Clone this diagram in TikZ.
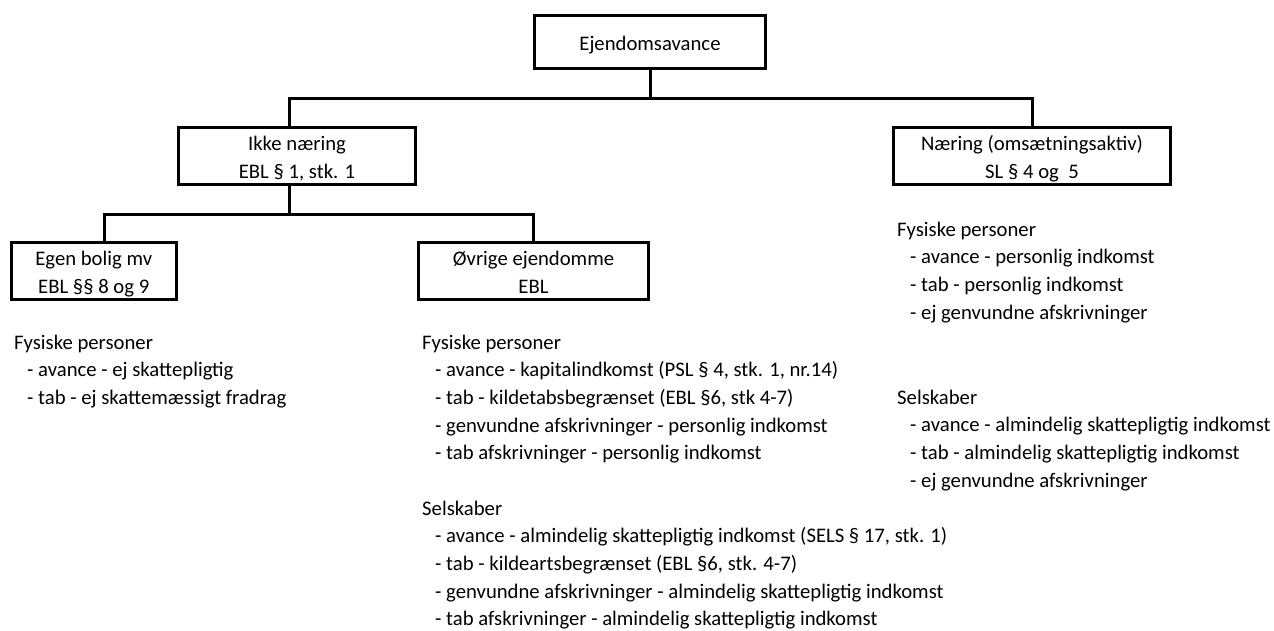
\documentclass[tikz,border=0pt]{standalone}
\usepackage{fontspec}
\setmainfont{Carlito}
\newcommand{\punkt}{\hspace*{13pt}- }
\newcommand{\notelines}[1]{\begin{tabular}[t]{@{}l@{}}#1\end{tabular}}
\tikzset{
  box/.style={draw, line width=3pt, inner sep=0pt, align=center,
              text height=51pt, text depth=6pt,
              font=\fontsize{20.7}{28}\selectfont},
  notes/.style={anchor=base west, inner sep=0pt,
                font=\fontsize{20.7}{27.7}\selectfont},
  link/.style={line width=3pt},
}
\begin{document}
\begin{tikzpicture}[x=1pt,y=-1pt]
  \useasboundingbox (0,0) rectangle (1274,630);
  % boxes
  \node[box, text height=19pt, text depth=3pt, minimum width=231, minimum height=53]
    (root) at (650,42) {Ejendomsavance};
  \node[box, minimum width=237, minimum height=54] (ikke) at (297,155.5) {Ikke næring\\EBL § 1, stk. 1};
  \node[box, minimum width=277, minimum height=54] (naering) at (1032,155.5) {Næring (omsætningsaktiv)\\SL § 4 og~ 5};
  \node[box, minimum width=165.5, minimum height=54] (egen) at (93.75,270.5) {Egen bolig mv\\EBL §§ 8 og 9};
  \node[box, minimum width=230, minimum height=54] (ovrige) at (533.5,270.5) {Øvrige ejendomme\\EBL};

  % connectors
  \draw[link] (root.south) -- ++(0,28) coordinate (bus1);
  \draw[link] (bus1) -| ([xshift=-8pt]ikke.north);
  \draw[link] (bus1) -| (naering.north);
  \draw[link] ([xshift=-8pt]ikke.south) -- ++(0,29) coordinate (bus2);
  \draw[link] (bus2) -| ([xshift=11pt]egen.north);
  \draw[link] (bus2) -| (ovrige.north);

  % notes
  \node[notes] (egenfys) at (14,349) {\notelines{Fysiske personer\\
    \punkt avance - ej skattepligtig\\
    \punkt tab - ej skattemæssigt fradrag}};
  \node[notes] (ovrfys) at (422,349) {\notelines{Fysiske personer\\
    \punkt avance - kapitalindkomst (PSL § 4, stk. 1, nr.14)\\
    \punkt tab - kildetabsbegrænset (EBL §6, stk 4-7)\\
    \punkt genvundne afskrivninger - personlig indkomst\\
    \punkt tab afskrivninger - personlig indkomst}};
  \node[notes] (ovrsel) at (422,515) {\notelines{Selskaber\\
    \punkt avance - almindelig skattepligtig indkomst (SELS § 17, stk. 1)\\
    \punkt tab - kildeartsbegrænset (EBL §6, stk. 4-7)\\
    \punkt genvundne afskrivninger - almindelig skattepligtig indkomst\\
    \punkt tab afskrivninger - almindelig skattepligtig indkomst}};
  \node[notes] (naerfys) at (897,236) {\notelines{Fysiske personer\\
    \punkt avance - personlig indkomst\\
    \punkt tab - personlig indkomst\\
    \punkt ej genvundne afskrivninger}};
  \node[notes] (naersel) at (897,404) {\notelines{Selskaber\\
    \punkt avance - almindelig skattepligtig indkomst\\
    \punkt tab - almindelig skattepligtig indkomst\\
    \punkt ej genvundne afskrivninger}};
\end{tikzpicture}
\end{document}
